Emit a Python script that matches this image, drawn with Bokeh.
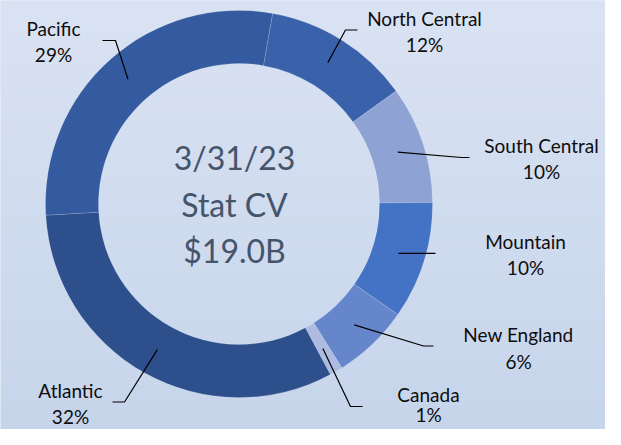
import numpy as np
from bokeh.plotting import figure
from bokeh.models import Range1d
from bokeh.core.properties import value
from bokeh.embed import file_html
from bokeh.resources import INLINE

# ---- data ----
regions = ["North Central", "South Central", "Mountain", "New England", "Canada", "Atlantic", "Pacific"]
shares = [12.3, 9.8, 9.8, 6.4, 1.1, 31.9, 28.7]
colors = ["#3a62ab", "#8ea2d4", "#4472c4", "#6686cb", "#aebbe0", "#2d4f8b", "#345a9f"]
center_lines = ["3/31/23", "Stat CV", "$19.0B"]

# ---- layout (reference pixel coords, y down) ----
W, H = 605, 429
CX, CY = 238.5, 203.5
R_OUT, R_IN = 193.5, 140.5
START_DEG = 10.0  # first slice starts 10 deg clockwise from 12 o'clock

label_pos = {
    "North Central": (424, 18, 44),
    "South Central": (541, 145, 171),
    "Mountain": (525, 241, 267),
    "New England": (518, 334, 361),
    "Canada": (428, 394, 414),
    "Atlantic": (70, 390, 416),
    "Pacific": (53, 28, 54),
}
leader_pts = {  # elbow, end
    "North Central": ((345, 29.5), (357, 29.5)),
    "South Central": ((461, 157), (469, 157)),
    "Mountain": ((420, None), (435, None)),
    "New England": ((423, 345.5), (433, 345.5)),
    "Canada": ((350, 406), (362, 406)),
    "Atlantic": ((124, 401.5), (112, 401.5)),
    "Pacific": ((115, 40), (102, 40)),
}

def fy(y):
    return H - y

p = figure(width=W, height=H, output_backend="svg", toolbar_location=None,
           x_range=Range1d(0, W), y_range=Range1d(0, H),
           min_border=0, outline_line_color=None)
p.axis.visible = False
p.grid.visible = False
p.background_fill_color = "#d0dcef"
p.border_fill_color = "#d0dcef"

# background gradient
top = np.array([0xda, 0xe3, 0xf3], dtype=float)
bot = np.array([0xc7, 0xd5, 0xeb], dtype=float)
n = 200
img = np.empty((n, 1), dtype=np.uint32)
view = img.view(dtype=np.uint8).reshape((n, 1, 4))
for i in range(n):
    t = i / (n - 1)  # 0 bottom -> 1 top
    c = bot + (top - bot) * t
    view[i, 0, 0] = int(c[0]); view[i, 0, 1] = int(c[1]); view[i, 0, 2] = int(c[2]); view[i, 0, 3] = 255
p.image_rgba(image=[img], x=0, y=0, dw=W, dh=H)

# donut slices
total = sum(shares)
cum = START_DEG
starts, ends, mids = [], [], []
for s in shares:
    a0 = cum
    a1 = cum + s / total * 360.0
    starts.append(np.radians(90 - a0))
    ends.append(np.radians(90 - a1))
    mids.append((a0 + a1) / 2)
    cum = a1
p.annular_wedge(x=CX, y=fy(CY), inner_radius=R_IN, outer_radius=R_OUT,
                start_angle=starts, end_angle=ends, direction="clock",
                fill_color=colors, line_color="#ffffff", line_alpha=0.25, line_width=0.6)

# leaders and labels
rm = (R_IN + R_OUT) / 2
for name, s, m in zip(regions, shares, mids):
    sx = CX + rm * np.sin(np.radians(m))
    sy = CY - rm * np.cos(np.radians(m))
    (ex, ey), (tx, ty) = leader_pts[name]
    if ey is None:
        ey = sy
        ty = sy
    p.line(x=[sx, ex, tx], y=[fy(sy), fy(ey), fy(ty)], line_color="#000000", line_width=1.2)
    lx, l1, l2 = label_pos[name]
    pct = f"{round(s / total * 100):.0f}%"
    p.text(x=[lx, lx], y=[fy(l1), fy(l2)], text=[name, pct], text_align="center",
           text_baseline="middle", text_font=value("Lato"), text_font_size="19px",
           text_color="#0d0d0d")

# center text
p.text(x=[234] * 3, y=[fy(157), fy(204), fy(250)], text=center_lines, text_align="center",
       text_baseline="middle", text_font=value("Lato"), text_font_size="32px",
       text_color="#44546a")

open("out.html", "w").write(file_html(p, INLINE))
